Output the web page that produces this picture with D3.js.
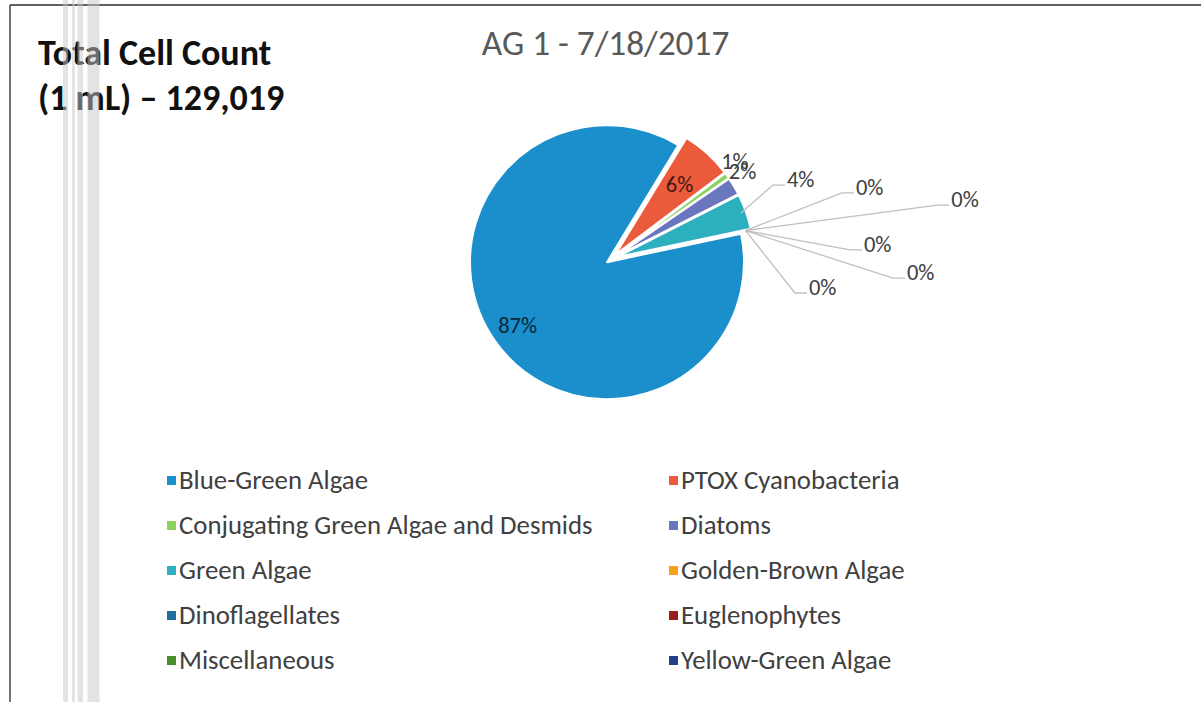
<!DOCTYPE html>
<html>
<head>
<meta charset="utf-8">
<script src="https://cdn.jsdelivr.net/npm/d3@7"></script>
<style>
  body { margin: 0; background: #fff; }
  svg { display: block; }
</style>
</head>
<body>
<svg id="chart" width="1201" height="702"></svg>
<script>
// phytoplankton groups, AG 1 sample 7/18/2017
const categories = [
    "Blue-Green Algae", "PTOX Cyanobacteria",
    "Conjugating Green Algae and Desmids", "Diatoms",
    "Green Algae", "Golden-Brown Algae",
    "Dinoflagellates", "Euglenophytes",
    "Miscellaneous", "Yellow-Green Algae"
]
const cellCounts = [112300, 7750, 900, 2700, 5369, 0, 0, 0, 0, 0]
const sliceColors = [
    "#1a8fcb", "#ec5a3c", "#8cd260", "#6a76bd", "#2cb0c0",
    "#f7a21b", "#1f6f9e", "#9b1b1b", "#4a8f2a", "#23408e"
]
const chartTitle = "AG 1 - 7/18/2017"
const noteLines = ["Total Cell Count", "(1 mL) \u2013 129,019"]

// label placement (Excel "best fit" look): polar offsets around the pie centre
const labelLayout = [
    {type: "inside", rf: 0.8},
    {type: "inside", rf: 0.7},
    {type: "outside", angle: 51.6, rf: 1.15},
    {type: "outside", angle: 56.3, rf: 1.15},
    {type: "leader", angle: 65.4, rf: 1.296},
    {type: "leader", angle: 74.0, rf: 1.75},
    {type: "leader", angle: 80.6, rf: 2.41},
    {type: "leader", angle: 87.8, rf: 1.742},
    {type: "leader", angle: 93.9, rf: 2.059},
    {type: "leader", angle: 100.5, rf: 1.362}
]

const font = "Carlito, Calibri, Lato, sans-serif"
const svg = d3.select("#chart")
const width = +svg.attr("width")
const height = +svg.attr("height")

const cx = 611.5, cy = 259
const radius = 137
const explode = 5.5
const startDeg = 78
const labelSize = 22.5

const total = d3.sum(cellCounts)
const data = categories.map((c, i) => ({name: c, value: cellCounts[i], color: sliceColors[i], layout: labelLayout[i]}))

const pie = d3.pie()
    .sort(null)
    .value(d => d.value)
    .startAngle(startDeg * Math.PI / 180)
    .endAngle(startDeg * Math.PI / 180 + 2 * Math.PI)
const arcs = pie(data)

const arc = d3.arc().innerRadius(0).outerRadius(radius)

const dir = a => [Math.sin(a), -Math.cos(a)]
const mid = d => (d.startAngle + d.endAngle) / 2

// border of the sheet
svg.append("line")
    .attr("x1", 10).attr("x2", width).attr("y1", 5).attr("y2", 5)
    .attr("stroke", "#2b2b2b").attr("stroke-width", 1.6)
svg.append("line")
    .attr("x1", 10).attr("x2", 10).attr("y1", 5).attr("y2", height)
    .attr("stroke", "#3a3a3a").attr("stroke-width", 1.4)

// title
svg.append("text")
    .attr("x", 605.5).attr("y", 55)
    .attr("text-anchor", "middle")
    .attr("font-family", font).attr("font-size", 35.3)
    .attr("fill", "#595959")
    .text(chartTitle)

svg.selectAll(".note")
    .data(noteLines)
    .join("text")
    .attr("class", "note")
    .attr("x", 38)
    .attr("y", (d, i) => 65 + i * 45)
    .attr("font-family", font).attr("font-size", 36).attr("font-weight", "bold")
    .attr("fill", "#111")
    .text(d => d)

// slices
const slices = svg.append("g").attr("transform", `translate(${cx},${cy})`)
slices.selectAll("path")
    .data(arcs.filter(d => d.value > 0))
    .join("path")
    .attr("transform", d => {
        const [x, y] = dir(mid(d))
        return `translate(${x * explode},${y * explode})`
    })
    .attr("d", arc)
    .attr("fill", d => d.data.color)
    .attr("stroke", "#fff")
    .attr("stroke-width", 2)
    .attr("stroke-linejoin", "round")

// data labels
const labels = slices.append("g")
const pct = d => Math.round(d.value / total * 100) + "%"

arcs.forEach(d => {
    const L = d.data.layout
    if (L.type === "inside") {
        const [x, y] = dir(mid(d))
        const rr = explode + radius * L.rf
        labels.append("text")
            .attr("x", x * rr).attr("y", y * rr)
            .attr("dy", "0.35em")
            .attr("text-anchor", "middle")
            .attr("font-family", font).attr("font-size", labelSize)
            .attr("fill", d3.interpolateRgb(d.data.color, "#000")(0.72))
            .text(pct(d))
    } else if (L.type === "outside") {
        const [x, y] = dir(L.angle * Math.PI / 180)
        labels.append("text")
            .attr("x", x * radius * L.rf).attr("y", y * radius * L.rf)
            .attr("dy", "0.35em")
            .attr("text-anchor", "middle")
            .attr("font-family", font).attr("font-size", labelSize)
            .attr("fill", "#404040")
            .text(pct(d))
    } else {
        const [sx, sy] = dir(mid(d))
        const [ex, ey] = dir(L.angle * Math.PI / 180)
        const elbow = [ex * radius * L.rf, ey * radius * L.rf]
        const pts = [[sx * radius, sy * radius], elbow, [elbow[0] + 12, elbow[1]]]
        labels.append("path")
            .attr("d", d3.line()(pts))
            .attr("fill", "none")
            .attr("stroke", "#bfbfbf")
            .attr("stroke-width", 1.3)
        labels.append("text")
            .attr("x", elbow[0] + 14).attr("y", elbow[1] + 2)
            .attr("font-family", font).attr("font-size", labelSize)
            .attr("fill", "#404040")
            .text(pct(d))
    }
})

// legend, two columns, row-major
const rowY = d3.scalePoint()
    .domain(d3.range(5))
    .range([480.5, 660.5])
const colX = d3.scaleOrdinal().domain([0, 1]).range([167, 669])

const legend = svg.append("g")
const item = legend.selectAll("g")
    .data(data)
    .join("g")
    .attr("transform", (d, i) => `translate(${colX(i % 2)},${rowY(Math.floor(i / 2))})`)
item.append("rect")
    .attr("x", 0).attr("y", -4.5)
    .attr("width", 9).attr("height", 9)
    .attr("fill", d => d.color)
item.append("text")
    .attr("x", 12).attr("y", 8)
    .attr("font-family", font).attr("font-size", 26.8)
    .attr("fill", "#404040")
    .text(d => d.name)

// scanner streaks over the left edge
const streaks = [[63, 5], [72, 3], [77.5, 5.5], [87.5, 12]]
svg.append("g")
    .selectAll("rect")
    .data(streaks)
    .join("rect")
    .attr("x", d => d[0]).attr("width", d => d[1])
    .attr("y", 0).attr("height", height)
    .attr("fill", "#c8c8c8")
    .attr("opacity", 0.5)
</script>
</body>
</html>
